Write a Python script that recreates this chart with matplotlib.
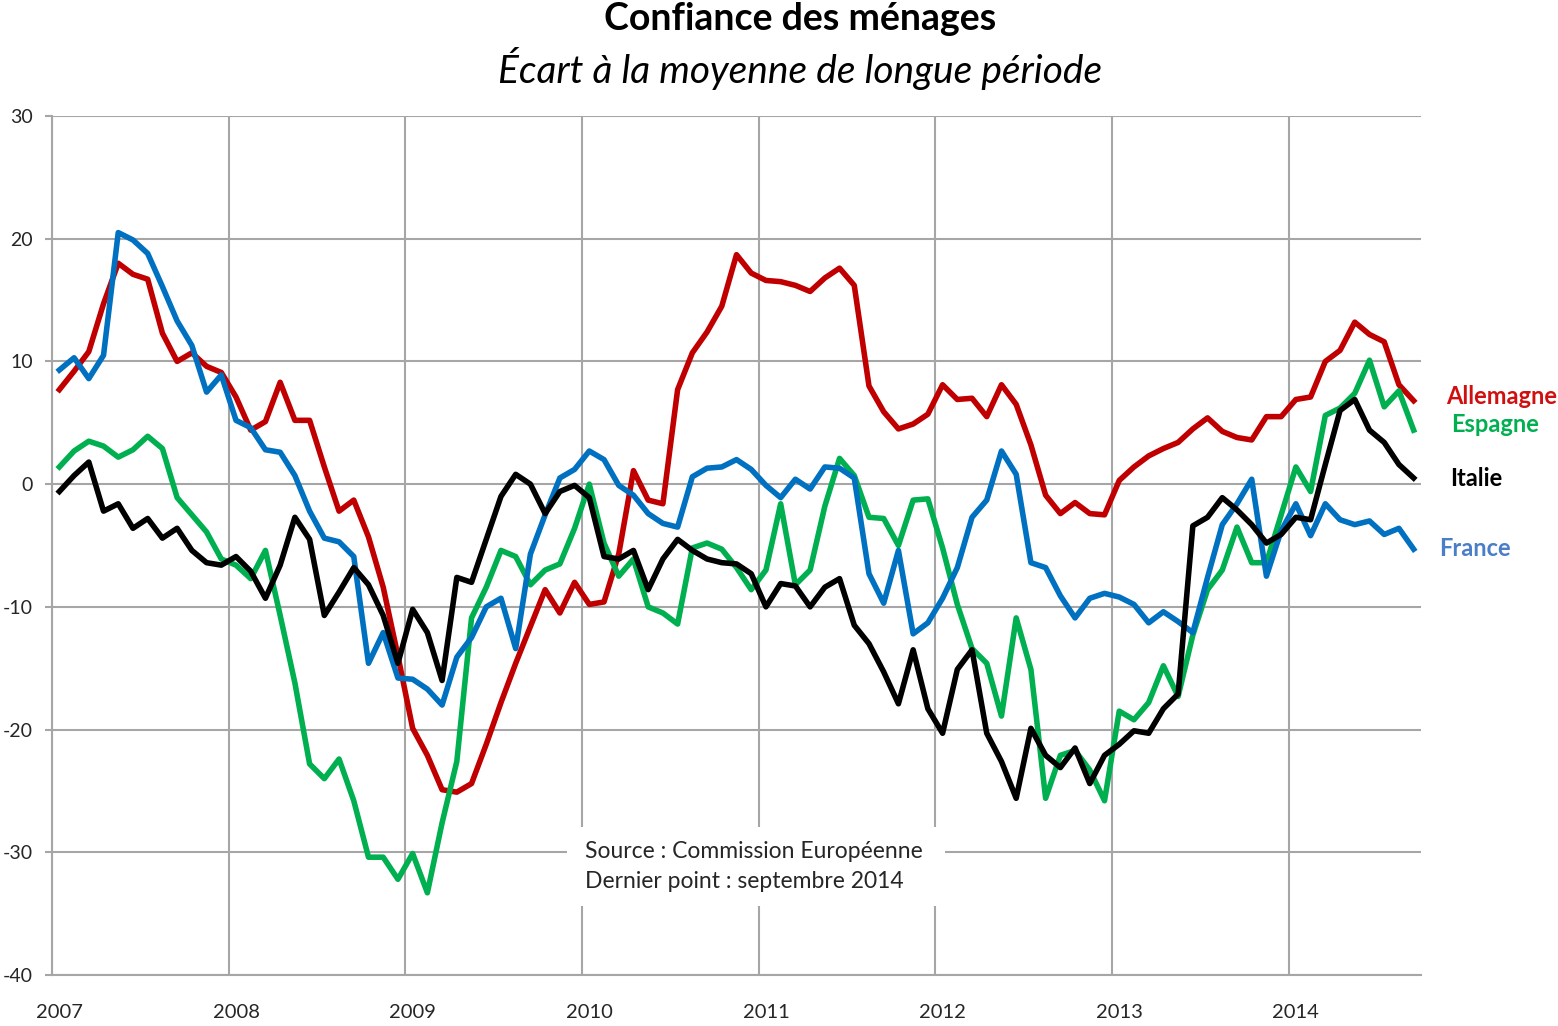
import numpy as np
import matplotlib
matplotlib.use("Agg")
import matplotlib.pyplot as plt
from matplotlib.patches import Rectangle

plt.rcParams['font.family'] = ['Lato', 'DejaVu Sans']
plt.rcParams['axes.unicode_minus'] = False

# monthly values, jan 2007 -> sep 2014
allemagne = [7.7, 9.2, 10.8, 14.7, 18.0, 17.1, 16.7, 12.3, 10.0, 10.7, 9.6, 9.1,
             7.1, 4.4, 5.1, 8.3, 5.2, 5.2, 1.4, -2.2, -1.3, -4.3, -8.4, -14.0,
             -19.9, -22.1, -24.9, -25.1, -24.4, -21.2, -17.8, -14.6, -11.6, -8.6, -10.5, -8.0,
             -9.8, -9.6, -5.7, 1.1, -1.3, -1.6, 7.7, 10.7, 12.4, 14.5, 18.7, 17.2,
             16.6, 16.5, 16.2, 15.7, 16.8, 17.6, 16.2, 8.0, 5.9, 4.5, 4.9, 5.7,
             8.1, 6.9, 7.0, 5.5, 8.1, 6.5, 3.2, -0.9, -2.4, -1.5, -2.4, -2.5,
             0.3, 1.4, 2.3, 2.9, 3.4, 4.5, 5.4, 4.3, 3.8, 3.6, 5.5, 5.5,
             6.9, 7.1, 10.0, 10.9, 13.2, 12.2, 11.6, 8.1, 6.8]

espagne = [1.4, 2.7, 3.5, 3.1, 2.2, 2.8, 3.9, 2.9, -1.1, -2.5, -3.9, -6.1,
           -6.6, -7.7, -5.4, -10.7, -16.2, -22.8, -24.0, -22.4, -25.8, -30.4, -30.4, -32.2,
           -30.1, -33.3, -27.6, -22.6, -10.9, -8.4, -5.4, -5.9, -8.2, -7.0, -6.5, -3.6,
           0.0, -4.8, -7.5, -6.1, -10.0, -10.5, -11.4, -5.2, -4.8, -5.3, -6.8, -8.6,
           -7.0, -1.6, -8.2, -7.0, -1.8, 2.1, 0.7, -2.7, -2.8, -5.0, -1.3, -1.2,
           -5.2, -9.8, -13.4, -14.6, -18.9, -10.9, -15.1, -25.6, -22.1, -21.7, -23.3, -25.8,
           -18.5, -19.2, -17.8, -14.8, -17.3, -12.3, -8.6, -7.0, -3.5, -6.4, -6.4, -2.5,
           1.4, -0.6, 5.6, 6.2, 7.4, 10.1, 6.3, 7.6, 4.4]

france = [9.3, 10.3, 8.6, 10.5, 20.5, 19.9, 18.8, 16.1, 13.3, 11.3, 7.5, 8.9,
          5.2, 4.6, 2.8, 2.6, 0.7, -2.2, -4.4, -4.7, -5.9, -14.6, -12.1, -15.8,
          -15.9, -16.7, -18.0, -14.1, -12.5, -10.0, -9.3, -13.4, -5.7, -2.5, 0.5, 1.2,
          2.7, 2.0, -0.1, -0.9, -2.4, -3.2, -3.5, 0.6, 1.3, 1.4, 2.0, 1.2,
          -0.1, -1.1, 0.4, -0.4, 1.4, 1.3, 0.5, -7.3, -9.7, -5.4, -12.2, -11.3,
          -9.3, -6.8, -2.7, -1.3, 2.7, 0.8, -6.4, -6.8, -9.1, -10.9, -9.3, -8.9,
          -9.2, -9.8, -11.3, -10.4, -11.2, -12.1, -7.6, -3.3, -1.6, 0.4, -7.5, -3.8,
          -1.6, -4.2, -1.6, -2.9, -3.3, -3.0, -4.1, -3.6, -5.3]

italie = [-0.6, 0.7, 1.8, -2.2, -1.6, -3.6, -2.8, -4.4, -3.6, -5.4, -6.4, -6.6,
          -5.9, -7.1, -9.3, -6.6, -2.7, -4.5, -10.7, -8.8, -6.8, -8.2, -10.7, -14.6,
          -10.2, -12.1, -16.0, -7.6, -8.0, -4.5, -1.0, 0.8, 0.0, -2.4, -0.6, -0.1,
          -1.1, -5.9, -6.1, -5.4, -8.6, -6.1, -4.5, -5.4, -6.1, -6.4, -6.5, -7.3,
          -10.0, -8.1, -8.3, -10.0, -8.4, -7.7, -11.5, -13.0, -15.3, -17.9, -13.5, -18.3,
          -20.3, -15.1, -13.5, -20.3, -22.6, -25.6, -19.9, -22.1, -23.1, -21.5, -24.4, -22.1,
          -21.2, -20.1, -20.3, -18.3, -17.1, -3.4, -2.7, -1.1, -2.1, -3.3, -4.8, -4.1,
          -2.7, -2.9, 1.6, 6.0, 6.9, 4.4, 3.4, 1.6, 0.5]

years = ["2007", "2008", "2009", "2010", "2011", "2012", "2013", "2014"]

x = np.arange(len(allemagne)) + 0.5

fig = plt.figure(figsize=(15.58, 10.26), dpi=100)
ax = fig.add_axes([52/1558, 1-975/1026, (1421-52)/1558, (975-116)/1026])

grid_c = "#a6a6a6"
txt_c = "#262626"
ax.set_xlim(0, 93)
ax.set_ylim(-40, 30)
ax.set_yticks(range(-40, 31, 10))
ax.set_xticks(np.arange(len(years)) * 12, minor=True)
ax.set_xticks(np.arange(len(years)) * 12 + 0.5)
ax.set_xticklabels(years)
ax.grid(True, which="minor", axis="x", color=grid_c, lw=1.5)
ax.grid(True, which="major", axis="y", color=grid_c, lw=1.5)
ax.set_axisbelow(True)
ax.tick_params(axis="x", which="both", length=0, pad=21, labelsize=14.5,
               labelcolor=txt_c)
ax.tick_params(axis="y", length=5, width=1.5, color=grid_c, pad=8.5, labelsize=14,
               labelcolor=txt_c)
for s in ["top", "right"]:
    ax.spines[s].set_visible(False)
ax.spines["left"].set_color(grid_c)
ax.spines["bottom"].set_color(grid_c)
ax.spines["left"].set_linewidth(1.5)
ax.spines["bottom"].set_linewidth(1.5)

ax.add_patch(Rectangle((0.376, 0.080), 0.276, 0.092, transform=ax.transAxes,
                       facecolor="white", edgecolor="none", zorder=1))

ax.plot(x, allemagne, color="#C00000", lw=4, zorder=3)
ax.plot(x, espagne, color="#00B050", lw=4, zorder=3)
ax.plot(x, france, color="#0070C0", lw=4, zorder=3)
ax.plot(x, italie, color="black", lw=4, zorder=3)

ax.text(0.389, 0.144, "Source : Commission Européenne", transform=ax.transAxes,
        fontsize=16.5, va="center", color=txt_c, zorder=2)
ax.text(0.389, 0.109, "Dernier point : septembre 2014", transform=ax.transAxes,
        fontsize=16.5, va="center", color=txt_c, zorder=2)

fig.text(1502/1558, 1-396/1026, "Allemagne", color="#D01010", fontsize=17,
         fontweight="bold", ha="center", va="center")
fig.text(1495/1558, 1-425/1026, "Espagne", color="#00B050", fontsize=17,
         fontweight="bold", ha="center", va="center")
fig.text(1476/1558, 1-479/1026, "Italie", color="black", fontsize=17,
         fontweight="bold", ha="center", va="center")
fig.text(1475/1558, 1-548/1026, "France", color="#4A7EC8", fontsize=17,
         fontweight="bold", ha="center", va="center")

fig.text(800/1558, 1-19/1026, "Confiance des ménages", fontsize=27,
         fontweight="bold", ha="center", va="center")
fig.text(800/1558, 1-68/1026, "Écart à la moyenne de longue période", fontsize=28,
         style="italic", ha="center", va="center")

fig.savefig("out.png", dpi=100)
